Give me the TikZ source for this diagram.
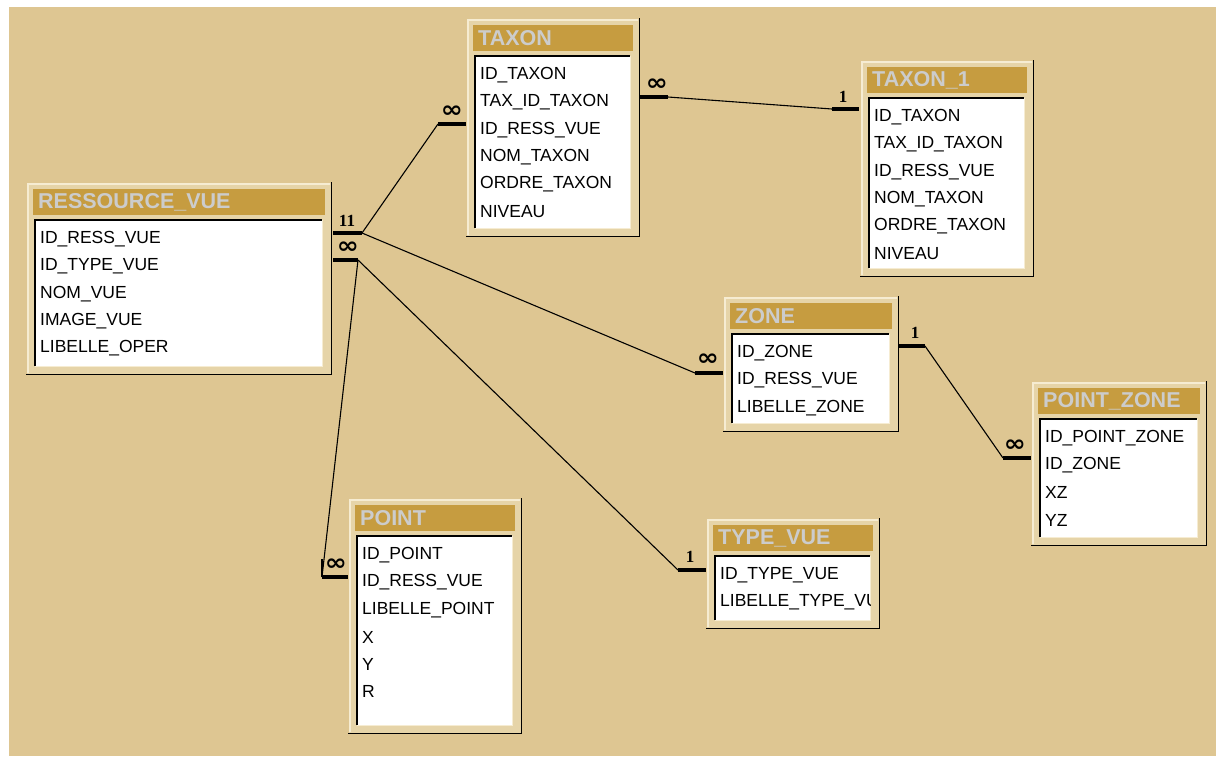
\documentclass[tikz,border=0pt]{standalone}
\usepackage{fontspec}
\setmainfont{Liberation Sans}
\newfontfamily\symfont{DejaVu Sans}
\newfontfamily\cardfont{Liberation Serif}

\definecolor{desk}{RGB}{222,198,146}
\definecolor{framefill}{RGB}{230,212,168}
\definecolor{framehi}{RGB}{246,236,210}
\definecolor{titlebar}{RGB}{198,156,64}
\definecolor{titleink}{RGB}{204,204,204}

\tikzset{
  fieldtext/.style={anchor=west, inner sep=0pt, font=\fontsize{17.5}{20}\selectfont},
  titletext/.style={anchor=west, inner sep=0pt, text=titleink, font=\fontsize{21.5}{24}\selectfont\bfseries},
  shadowline/.style={black, line width=1.6pt},
  cardbar/.style={black, line width=3.6pt},
  relline/.style={black, line width=1.1pt},
  manylabel/.style={inner sep=0pt, xscale=1.15, font=\symfont\bfseries\fontsize{23}{23}\selectfont},
  onelabel/.style={inner sep=0pt, font=\cardfont\bfseries\fontsize{17}{17}\selectfont},
}

% #1 id, #2 left, #3 top, #4 right, #5 bottom of the white list, #6 title, #7 fields
\newcommand{\dbtable}[7]{%
  \fill[framefill] (#2-6,#3-6) rectangle (#4+6,#5+8);
  \draw[framehi, line width=2pt] (#2-5,#5+7) -- (#2-5,#3-5) -- (#4+5,#3-5);
  \draw[shadowline] (#4+6.5,#3-7) -- (#4+6.5,#5+8.5) -- (#2-7,#5+8.5);
  \fill[titlebar] (#2,#3) rectangle (#4,#3+26);
  \node[titletext] (#1-title) at (#2+5,#3+13.5) {#6};
  \fill[white] (#2+2,#3+31) rectangle (#4-3,#5);
  \draw[framehi, line width=1.5pt] (#4-2.5,#3+31) -- (#4-2.5,#5+0.5) -- (#2+2,#5+0.5);
  \draw[black, line width=1.8pt] (#2+2,#5) -- (#2+2,#3+31) -- (#4-3,#3+31);
  \begin{scope}
    \clip (#2+2,#3+31) rectangle (#4-3,#5);
    \foreach \f [count=\i] in {#7}
      \node[fieldtext] (#1-f\i) at (#2+7,#3+23+27.3*\i) {\f};
  \end{scope}
}

\begin{document}
\begin{tikzpicture}[x=1pt, y=-1pt]
  \useasboundingbox (0,0) rectangle (1216,756);
  \fill[white] (0,0) rectangle (1216,756);
  \fill[desk] (9,7) rectangle (1216,756);

  % tables
  \dbtable{rv}{33}{189}{325}{366}{RESSOURCE\_VUE}%
    {ID\_RESS\_VUE,ID\_TYPE\_VUE,NOM\_VUE,IMAGE\_VUE,LIBELLE\_OPER}
  \dbtable{tx}{473}{25}{633}{228}{TAXON}%
    {ID\_TAXON,TAX\_ID\_TAXON,ID\_RESS\_VUE,NOM\_TAXON,ORDRE\_TAXON,NIVEAU}
  \dbtable{tw}{867}{67}{1027}{268}{TAXON\_1}%
    {ID\_TAXON,TAX\_ID\_TAXON,ID\_RESS\_VUE,NOM\_TAXON,ORDRE\_TAXON,NIVEAU}
  \dbtable{zn}{730}{303}{892}{423}{ZONE}%
    {ID\_ZONE,ID\_RESS\_VUE,LIBELLE\_ZONE}
  \dbtable{pz}{1038}{388}{1200}{537}{POINT\_ZONE}%
    {ID\_POINT\_ZONE,ID\_ZONE,XZ,YZ}
  \dbtable{pt}{355}{505}{515}{725}{POINT}%
    {ID\_POINT,ID\_RESS\_VUE,LIBELLE\_POINT,X,Y,R}
  \dbtable{tv}{713}{525}{873}{620}{TYPE\_VUE}%
    {ID\_TYPE\_VUE,LIBELLE\_TYPE\_VU}

  % relationship stubs
  \coordinate (rvA1) at (333,233);  \coordinate (rvA2) at (362,233);
  \coordinate (rvB1) at (333,260);  \coordinate (rvB2) at (358,260);
  \coordinate (txL1) at (438,124);  \coordinate (txL2) at (466,124);
  \coordinate (txR1) at (640,97);   \coordinate (txR2) at (668,97);
  \coordinate (twL1) at (832,109);  \coordinate (twL2) at (859,109);
  \coordinate (znL1) at (695,373);  \coordinate (znL2) at (723,373);
  \coordinate (znR1) at (898,346);  \coordinate (znR2) at (925,346);
  \coordinate (pzL1) at (1003,458); \coordinate (pzL2) at (1031,458);
  \coordinate (ptL1) at (322,577);  \coordinate (ptL2) at (348,577);
  \coordinate (tvL1) at (678,570);  \coordinate (tvL2) at (706,570);

  \foreach \a/\b in {rvA1/rvA2, rvB1/rvB2, txL1/txL2, txR1/txR2, twL1/twL2,
                     znL1/znL2, znR1/znR2, pzL1/pzL2, ptL1/ptL2, tvL1/tvL2}
    \draw[cardbar] (\a) -- (\b);
  \draw[black, line width=2pt] (ptL1) -- ++(0,-18);

  % relationship lines
  \draw[relline] (rvA2) -- (txL1);
  \draw[relline] (rvA2) -- (znL1);
  \draw[relline] (rvB2) -- (ptL1);
  \draw[relline] (rvB2) -- (tvL1);
  \draw[relline] (txR2) -- (twL1);
  \draw[relline] (znR2) -- (pzL1);

  % cardinalities
  \node[onelabel]  (c-rv1)  at (347,221) {11};
  \node[manylabel] (c-rvm)  at (348,248) {∞};
  \node[manylabel] (c-txl)  at (452,112) {∞};
  \node[manylabel] (c-txr)  at (657,85)  {∞};
  \node[onelabel]  (c-tw)   at (843,97)  {1};
  \node[manylabel] (c-znl)  at (708,360) {∞};
  \node[onelabel]  (c-znr)  at (915,333) {1};
  \node[manylabel] (c-pz)   at (1015,446) {∞};
  \node[manylabel] (c-pt)   at (336,565) {∞};
  \node[onelabel]  (c-tv)   at (690,557) {1};
\end{tikzpicture}
\end{document}
